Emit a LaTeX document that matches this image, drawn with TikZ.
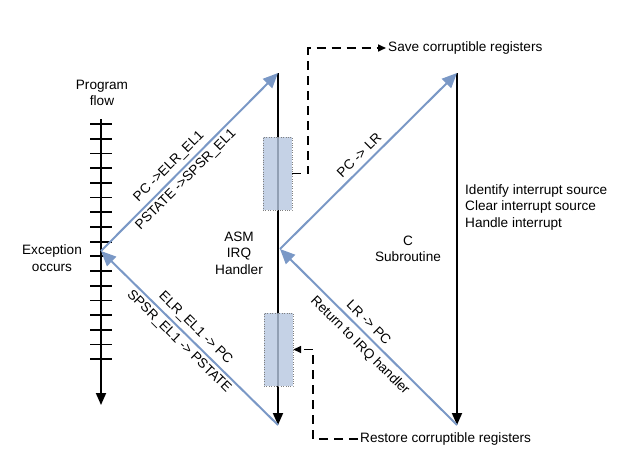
\documentclass[tikz,border=0pt]{standalone}
\usepackage{fontspec}
\setmainfont{Liberation Sans}
\usetikzlibrary{arrows.meta,calc}
\definecolor{flowblue}{RGB}{122,152,198}
\definecolor{shadeblue}{RGB}{182,199,224}

\begin{document}
\begin{tikzpicture}[x=1pt,y=-1pt,
  font=\fontsize{13.6}{16.5}\selectfont,
  every node/.style={inner sep=2pt},
  flow/.style={draw=flowblue,line width=2pt,-{Triangle[length=15pt,width=13pt]}},
  seq/.style={draw=black,line width=1.8pt,-{Triangle[length=12pt,width=10pt]}},
  hop/.style={line width=1.6pt,dash pattern=on 9pt off 6pt,-{Triangle[length=8pt,width=7pt]}},
  saved/.style={draw=gray,dotted,fill=shadeblue,fill opacity=0.8,minimum width=29pt,minimum height=73pt}]
  \useasboundingbox (0,0) rectangle (633,466);
  % program flow
  \node[align=center] (pf) at (102,93) {Program\\flow};
  \coordinate (flowtop) at (101,119);
  \coordinate (flowbot) at (101,405);
  \draw[seq] (flowtop) -- (flowbot);
  \foreach \i in {0,...,16}
    \draw[line width=1.8pt] (90,124+\i*14.7) -- (112,124+\i*14.7);
  \node[align=center] (exc) at (52,258) {Exception\\occurs};
  \coordinate (e) at (101,251);
  % asm handler
  \coordinate (asmtop) at (278,73);
  \coordinate (asmbot) at (278,425);
  \coordinate (asmmid) at (280,249);
  \draw[seq] (asmtop) -- (asmbot);
  \node[align=center] (asm) at (239,253) {ASM\\IRQ\\Handler};
  \node[saved] (saverect) at (277.5,173.5) {};
  \node[saved] (restrect) at (278.5,349.5) {};
  % c subroutine
  \coordinate (ctop) at (457,73);
  \coordinate (cbot) at (457,425);
  \draw[seq] (ctop) -- (cbot);
  \node[align=center] (csub) at (408,249) {C\\Subroutine};
  \node[align=left,anchor=north west] (ident) at (463,182)
    {Identify interrupt source\\Clear interrupt source\\Handle interrupt};
  % exception entry and return
  \draw[flow] (e) -- (asmtop)
    node[pos=.43,sloped,above,inner sep=4pt] {PC ->ELR\_EL1}
    node[pos=.44,sloped,below,inner sep=3pt] {PSTATE ->SPSR\_EL1};
  \draw[flow] (asmbot) -- (e)
    node[pos=.51,sloped,above,inner sep=4pt] {ELR\_EL1 -> PC}
    node[pos=.52,sloped,below,inner sep=3pt] {SPSR\_EL1 -> PSTATE};
  \draw[flow] (asmmid) -- (ctop)
    node[pos=.49,sloped,above,inner sep=5pt] {PC -> LR};
  \draw[flow] (cbot) -- (asmmid)
    node[pos=.54,sloped,above,inner sep=5pt] {LR -> PC}
    node[pos=.5,sloped,below,inner sep=5pt] {Return to IRQ handler};
  % save and restore
  \node[anchor=west] (save) at (386,48) {Save corruptible registers};
  \node[anchor=west] (restore) at (358,439) {Restore corruptible registers};
  \draw[hop] (saverect.east) -- ++(16,0) |- (save.west);
  \draw[hop] (restore.west) -| ($(restrect.east)+(20,0)$) -- (restrect.east);
\end{tikzpicture}
\end{document}
